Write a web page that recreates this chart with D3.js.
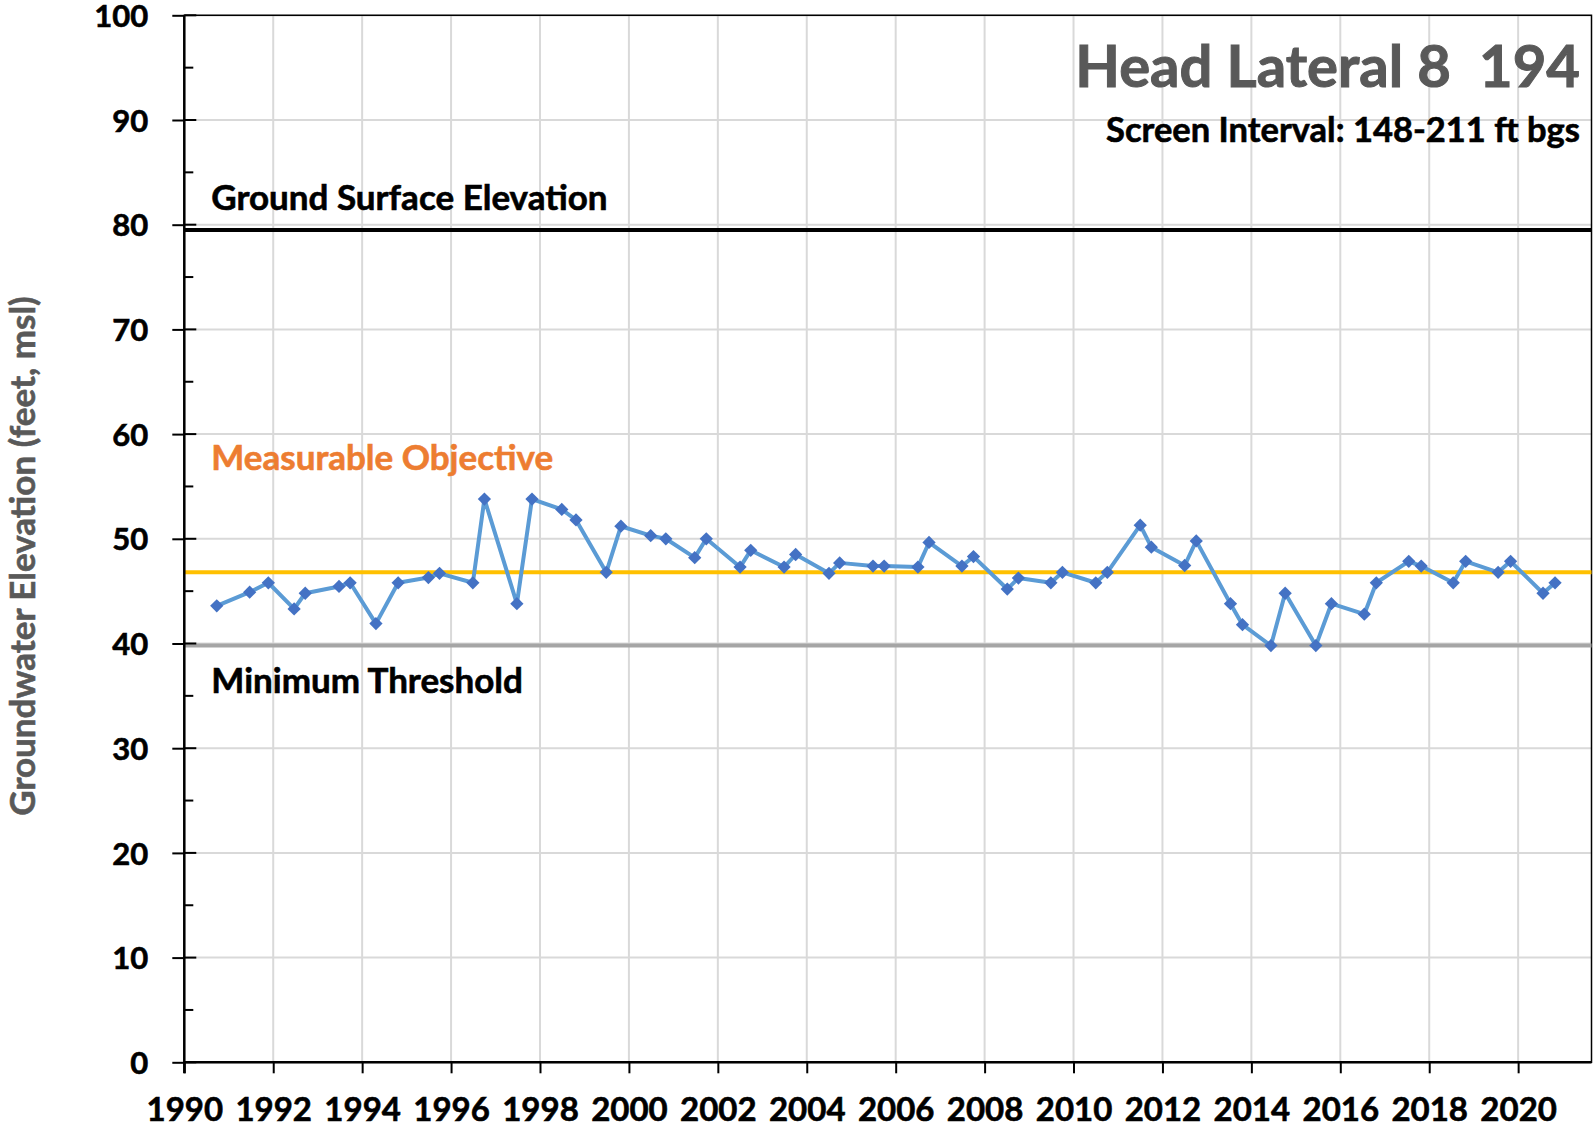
<!DOCTYPE html>
<html>
<head>
<meta charset="utf-8">
<script src="https://cdn.jsdelivr.net/npm/d3@7"></script>
<style>
	body{margin:0;background:#fff;}
	text{font-family:Lato, "Open Sans", sans-serif;font-weight:bold;}
</style>
</head>
<body>
<div id="chart"></div>
<script>
// measurement dates (decimal years) and groundwater elevations
var dates = [1990.73, 1991.47, 1991.89, 1992.47, 1992.72, 1993.48, 1993.73, 1994.31, 1994.81, 1995.49,
	1995.74, 1996.49, 1996.75, 1997.48, 1997.82, 1998.49, 1998.81, 1999.49, 1999.82, 2000.49,
	2000.83, 2001.48, 2001.74, 2002.50, 2002.74, 2003.49, 2003.75, 2004.50, 2004.74, 2005.49,
	2005.74, 2006.50, 2006.75, 2007.49, 2007.75, 2008.51, 2008.76, 2009.49, 2009.75, 2010.50,
	2010.76, 2011.50, 2011.75, 2012.50, 2012.76, 2013.53, 2013.80, 2014.44, 2014.76, 2015.45,
	2015.80, 2016.54, 2016.81, 2017.54, 2017.82, 2018.54, 2018.82, 2019.55, 2019.83, 2020.56, 2020.83];
var elevations = [43.6, 44.9, 45.8, 43.3, 44.8, 45.45, 45.8, 41.9, 45.8, 46.3,
	46.7, 45.8, 53.8, 43.8, 53.8, 52.8, 51.8, 46.8, 51.2, 50.3,
	50.0, 48.2, 50.0, 47.3, 48.9, 47.3, 48.5, 46.7, 47.7, 47.4,
	47.4, 47.3, 49.65, 47.4, 48.3, 45.2, 46.25, 45.8, 46.8, 45.8,
	46.8, 51.3, 49.2, 47.45, 49.8, 43.8, 41.8, 39.8, 44.8, 39.8,
	43.8, 42.8, 45.8, 47.85, 47.4, 45.8, 47.85, 46.8, 47.85, 44.8, 45.8];

var groundSurface = 79.5;
var measurableObjective = 46.8;
var minimumThreshold = 39.8;

var yTicks = [0, 10, 20, 30, 40, 50, 60, 70, 80, 90, 100];
var yMinorTicks = [5, 15, 25, 35, 45, 55, 65, 75, 85, 95];
var xTicks = [1990, 1992, 1994, 1996, 1998, 2000, 2002, 2004, 2006, 2008, 2010, 2012, 2014, 2016, 2018, 2020];
var xDomain = [1990, 2021.65];

var title = "Head Lateral 8  194";
var subtitle = "Screen Interval: 148-211 ft bgs";
var yLabel = "Groundwater Elevation (feet, msl)";
var lineLabels = ["Ground Surface Elevation", "Measurable Objective", "Minimum Threshold"];

var width = 1593, height = 1127;
var margin = {left:184.3, right:1.5, top:15.3, bottom:64.7};

var svg = d3.select("#chart").append("svg")
	.attr("width", width)
	.attr("height", height);

var x = d3.scaleLinear().domain(xDomain).range([margin.left, width - margin.right]);
var y = d3.scaleLinear().domain([0, 100]).range([height - margin.bottom, margin.top]);

// grid
svg.append("g").selectAll("line")
	.data(xTicks.slice(1))
	.enter().append("line")
	.attr("x1", function(d){ return x(d); })
	.attr("x2", function(d){ return x(d); })
	.attr("y1", y(0)).attr("y2", y(100))
	.attr("stroke", "#d9d9d9").attr("stroke-width", 2);

svg.append("g").selectAll("line")
	.data(yTicks.slice(1))
	.enter().append("line")
	.attr("x1", x(xDomain[0])).attr("x2", x(xDomain[1]))
	.attr("y1", function(d){ return y(d); })
	.attr("y2", function(d){ return y(d); })
	.attr("stroke", "#d9d9d9").attr("stroke-width", 2);

// plot border
svg.append("rect")
	.attr("x", x(xDomain[0])).attr("y", y(100))
	.attr("width", x(xDomain[1]) - x(xDomain[0]))
	.attr("height", y(0) - y(100))
	.attr("fill", "none").attr("stroke", "#000").attr("stroke-width", 1.5);

// reference lines
var refs = [
	{value: groundSurface, color: "#000"},
	{value: measurableObjective, color: "#ffc000"},
	{value: minimumThreshold, color: "#a5a5a5"}
];
svg.append("g").selectAll("line")
	.data(refs)
	.enter().append("line")
	.attr("x1", x(xDomain[0])).attr("x2", x(xDomain[1]))
	.attr("y1", function(d){ return y(d.value); })
	.attr("y2", function(d){ return y(d.value); })
	.attr("stroke", function(d){ return d.color; })
	.attr("stroke-width", 4);

// y axis
var yAxis = svg.append("g")
	.attr("transform", "translate(" + x(xDomain[0]) + ",0)")
	.call(d3.axisLeft(y).tickValues(yTicks).tickSize(12).tickPadding(24));
yAxis.select(".domain").remove();
yAxis.selectAll(".tick line").attr("stroke", "#000").attr("stroke-width", 2);
yAxis.selectAll("text")
	.attr("dy", "0.36em")
	.attr("font-family", "Lato").attr("font-size", 31).attr("fill", "#000")
	.attr("stroke", "#000").attr("stroke-width", 0.6);

yAxis.selectAll(".inner")
	.data(yTicks)
	.enter().append("line")
	.attr("x1", 0).attr("x2", 12)
	.attr("y1", function(d){ return y(d); })
	.attr("y2", function(d){ return y(d); })
	.attr("stroke", "#000").attr("stroke-width", 2);

yAxis.selectAll(".minor")
	.data(yMinorTicks)
	.enter().append("line")
	.attr("x1", 0).attr("x2", 9)
	.attr("y1", function(d){ return y(d); })
	.attr("y2", function(d){ return y(d); })
	.attr("stroke", "#000").attr("stroke-width", 2);

yAxis.append("line")
	.attr("x1", 0).attr("x2", 0)
	.attr("y1", y(100)).attr("y2", y(0) + 11)
	.attr("stroke", "#000").attr("stroke-width", 2.5);

// x axis
var xAxis = svg.append("g")
	.attr("transform", "translate(0," + y(0) + ")")
	.call(d3.axisBottom(x).tickValues(xTicks).tickFormat(d3.format("d")).tickSize(11));
xAxis.select(".domain").remove();
xAxis.selectAll(".tick line").attr("stroke", "#000").attr("stroke-width", 2);
xAxis.selectAll("text")
	.attr("dy", null)
	.attr("y", 59)
	.attr("font-family", "Lato").attr("font-size", 33).attr("fill", "#000")
	.attr("stroke", "#000").attr("stroke-width", 0.6);
xAxis.append("line")
	.attr("x1", x(xDomain[0])).attr("x2", x(xDomain[1]))
	.attr("y1", 0).attr("y2", 0)
	.attr("stroke", "#000").attr("stroke-width", 2.5);

// data series
var pts = dates.map(function(d, i){ return [d, elevations[i]]; });
var line = d3.line()
	.x(function(d){ return x(d[0]); })
	.y(function(d){ return y(d[1]); });

svg.append("path")
	.datum(pts)
	.attr("d", line)
	.attr("fill", "none")
	.attr("stroke", "#5b9bd5")
	.attr("stroke-width", 4)
	.attr("stroke-linejoin", "round");

svg.append("g").selectAll("path")
	.data(pts)
	.enter().append("path")
	.attr("d", d3.symbol(d3.symbolSquare, 88))
	.attr("transform", function(d){ return "translate(" + x(d[0]) + "," + y(d[1]) + ") rotate(45)"; })
	.attr("fill", "#4472c4");

// labels
var labelX = x(xDomain[0]) + 27;
function label(txt, ypos, color){
	svg.append("text")
		.attr("x", labelX).attr("y", ypos)
		.attr("font-size", 35).attr("fill", color)
		.attr("stroke", color).attr("stroke-width", 0.6)
		.text(txt);
}
label(lineLabels[0], y(groundSurface) - 20, "#000");
label(lineLabels[1], y(measurableObjective) - 102, "#ed7d31");
label(lineLabels[2], y(minimumThreshold) + 47, "#000");

svg.append("text")
	.attr("x", 1580).attr("y", 87)
	.attr("text-anchor", "end")
	.attr("font-size", 58).attr("fill", "#595959")
	.attr("stroke", "#595959").attr("stroke-width", 1)
	.style("white-space", "pre")
	.text(title);
svg.append("text")
	.attr("x", 1580).attr("y", 142)
	.attr("text-anchor", "end")
	.attr("font-size", 34.5).attr("fill", "#000")
	.attr("stroke", "#000").attr("stroke-width", 0.6)
	.text(subtitle);

svg.append("text")
	.attr("transform", "translate(35,556) rotate(-90)")
	.attr("text-anchor", "middle")
	.attr("font-size", 35).attr("fill", "#595959")
	.attr("stroke", "#595959").attr("stroke-width", 0.6)
	.text(yLabel);
</script>
</body>
</html>
